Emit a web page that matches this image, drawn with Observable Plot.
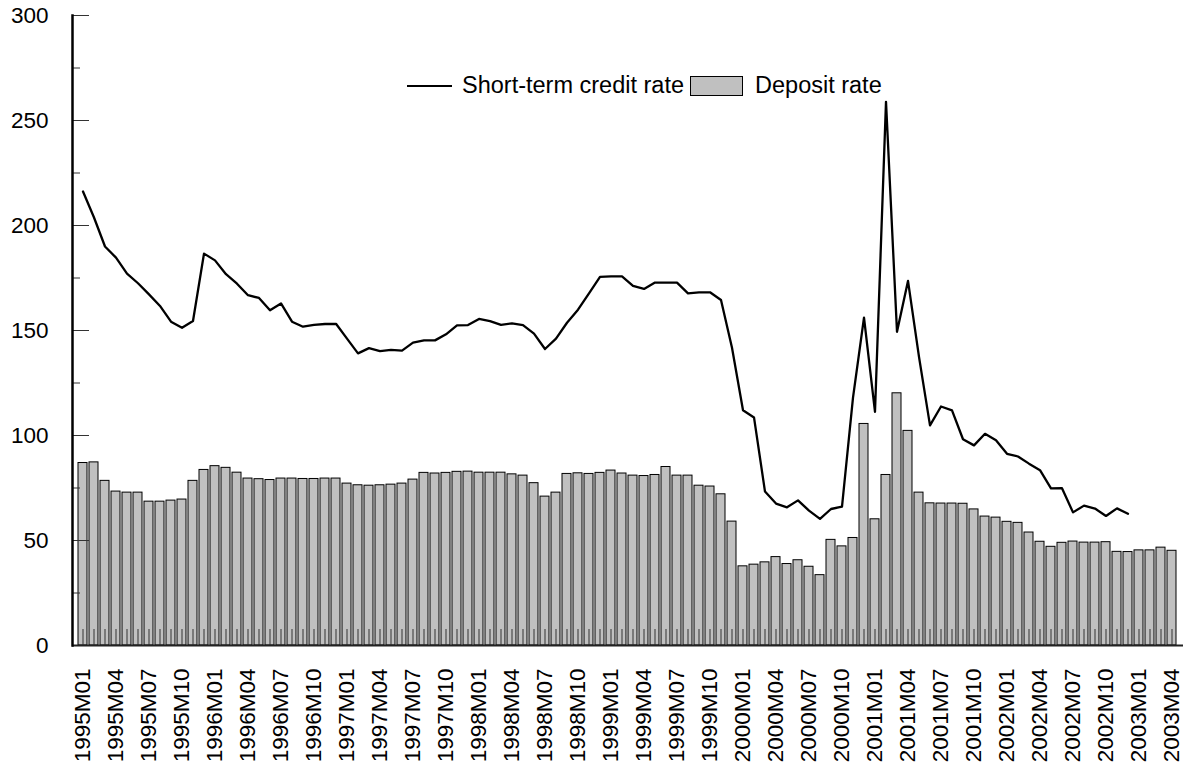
<!DOCTYPE html>
<html>
<head>
<meta charset="utf-8">
<script src="https://cdn.jsdelivr.net/npm/d3@7"></script>
<script src="https://cdn.jsdelivr.net/npm/@observablehq/plot@0.6"></script>
<style>
  html, body { margin: 0; padding: 0; background: #fff; }
  #wrap { position: relative; width: 1195px; height: 771px; font-family: "Liberation Sans", Arial, sans-serif; }
  #legend { position: absolute; left: 407px; top: 72px; display: flex; align-items: center; font-size: 23.5px; color: #000; white-space: nowrap; }
  #legend .ln { width: 45px; height: 0; border-top: 2.5px solid #000; margin-right: 10px; }
  #legend .bx { width: 53px; height: 20px; background: #c0c0c0; border: 1px solid #000; margin: 0 12px 0 6px; box-sizing: border-box; }
</style>
</head>
<body>
<div id="wrap"></div>
<script>
const months = [
  "1995M01","1995M02","1995M03","1995M04","1995M05","1995M06","1995M07","1995M08","1995M09","1995M10","1995M11","1995M12",
  "1996M01","1996M02","1996M03","1996M04","1996M05","1996M06","1996M07","1996M08","1996M09","1996M10","1996M11","1996M12",
  "1997M01","1997M02","1997M03","1997M04","1997M05","1997M06","1997M07","1997M08","1997M09","1997M10","1997M11","1997M12",
  "1998M01","1998M02","1998M03","1998M04","1998M05","1998M06","1998M07","1998M08","1998M09","1998M10","1998M11","1998M12",
  "1999M01","1999M02","1999M03","1999M04","1999M05","1999M06","1999M07","1999M08","1999M09","1999M10","1999M11","1999M12",
  "2000M01","2000M02","2000M03","2000M04","2000M05","2000M06","2000M07","2000M08","2000M09","2000M10","2000M11","2000M12",
  "2001M01","2001M02","2001M03","2001M04","2001M05","2001M06","2001M07","2001M08","2001M09","2001M10","2001M11","2001M12",
  "2002M01","2002M02","2002M03","2002M04","2002M05","2002M06","2002M07","2002M08","2002M09","2002M10","2002M11","2002M12",
  "2003M01","2003M02","2003M03","2003M04"
];

const depositRate = [
  86.9, 87.2, 78.4, 73.3, 72.8, 72.8, 68.5, 68.5, 69.0, 69.5, 78.4, 83.6,
  85.4, 84.6, 82.3, 79.5, 79.2, 78.8, 79.5, 79.5, 79.3, 79.3, 79.5, 79.5,
  77.1, 76.3, 76.1, 76.3, 76.6, 77.1, 79.0, 82.2, 81.9, 82.2, 82.7, 82.8,
  82.3, 82.3, 82.3, 81.5, 80.9, 77.3, 70.9, 72.8, 81.7, 82.0, 81.7, 82.2,
  83.3, 81.9, 80.9, 80.7, 81.2, 85.0, 80.9, 80.9, 76.1, 75.7, 72.0, 59.0,
  37.7, 38.5, 39.6, 42.1, 38.8, 40.6, 37.5, 33.5, 50.3, 47.2, 51.2, 105.5,
  60.1, 81.2, 120.1, 102.2, 72.8, 67.7, 67.6, 67.6, 67.5, 64.8, 61.4, 60.9,
  58.9, 58.4, 53.8, 49.4, 47.0, 48.9, 49.5, 49.0, 49.0, 49.2, 44.6, 44.5,
  45.3, 45.3, 46.6, 45.1
];

const creditRate = [
  216.2, 203.8, 190.0, 184.7, 177.1, 172.5, 167.2, 161.7, 154.2, 151.3, 154.5, 186.6,
  183.4, 176.8, 172.3, 166.8, 165.5, 159.6, 162.9, 154.2, 151.8, 152.7, 153.1, 153.2,
  146.1, 139.1, 141.6, 140.2, 140.8, 140.4, 144.2, 145.3, 145.3, 148.2, 152.4, 152.6,
  155.5, 154.5, 152.7, 153.4, 152.6, 148.5, 141.2, 146.1, 153.7, 159.9, 167.7, 175.5,
  175.8, 175.8, 171.2, 169.8, 172.8, 172.8, 172.8, 167.7, 168.2, 168.2, 164.5, 141.8,
  112.0, 108.6, 73.3, 67.6, 65.8, 69.1, 64.2, 60.3, 65.0, 66.1, 118.0, 156.1,
  111.3, 258.9, 149.4, 173.6, 137.4, 104.8, 113.8, 112.0, 98.2, 95.3, 100.8, 97.7,
  91.3, 90.0, 86.6, 83.5, 74.8, 74.9, 63.4, 66.6, 65.2, 61.7, 65.3, 62.7
];

const yMajorTicks = [0, 50, 100, 150, 200, 250, 300];
const yMinorTicks = [25, 75, 125, 175, 225, 275];
const xLabelMonths = months.filter((m, i) => i % 3 === 0);

const seriesNames = ["Short-term credit rate", "Deposit rate"];

const barData = months.map((m, i) => ({month: m, value: depositRate[i]}));
const lineData = creditRate.map((v, i) => ({month: months[i], value: v}));

const W = 1195, H = 771, mL = 72, mR = 12, mT = 15, mB = 126;
const frameW = W - mL - mR, frameH = H - mT - mB;

const chart = Plot.plot({
  width: W,
  height: H,
  marginLeft: mL,
  marginRight: mR,
  marginTop: mT,
  marginBottom: mB,
  style: {fontFamily: "'Liberation Sans', Arial, sans-serif", color: "#000", background: "#fff"},
  x: {type: "band", domain: months, paddingInner: 0.15, paddingOuter: 0.05},
  y: {domain: [0, 300]},
  marks: [
    Plot.barY(barData, {x: "month", y: "value", fill: "#c0c0c0", stroke: "#000", strokeWidth: 1}),
    Plot.tickX(months, {x: d => d, stroke: "#333", strokeWidth: 1, insetTop: frameH - 16}),
    Plot.tickY(yMajorTicks, {y: d => d, stroke: "#333", strokeWidth: 1, insetRight: frameW - 17}),
    Plot.tickY(yMinorTicks, {y: d => d, stroke: "#333", strokeWidth: 1, insetRight: frameW - 8}),
    Plot.line(lineData, {x: "month", y: "value", stroke: "#000", strokeWidth: 2.3}),
    Plot.ruleY([0], {stroke: "#222", strokeWidth: 2}),
    Plot.frame({anchor: "left", stroke: "#000", strokeWidth: 2.5}),
    Plot.axisY({ticks: yMajorTicks, tickSize: 0, tickPadding: 24, fontSize: 22.5, label: null}),
    Plot.axisX({ticks: xLabelMonths, tickSize: 0, tickPadding: 23, tickRotate: -90, fontSize: 22.5, label: null})
  ]
});

const wrap = document.getElementById("wrap");
wrap.appendChild(chart);

const legend = document.createElement("div");
legend.id = "legend";
legend.innerHTML = `<span class="ln"></span><span>${seriesNames[0]}</span><span class="bx"></span><span>${seriesNames[1]}</span>`;
wrap.appendChild(legend);
</script>
</body>
</html>
